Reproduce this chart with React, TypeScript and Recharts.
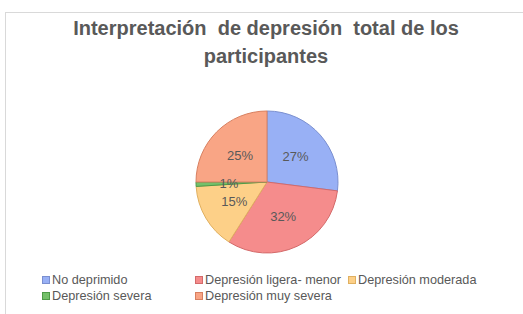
import React from 'react';
import { PieChart, Pie, Cell, Legend } from 'recharts';

const categories = ['No deprimido', 'Depresión ligera- menor', 'Depresión moderada', 'Depresión severa', 'Depresión muy severa'];
const values = [27, 32, 15, 1, 25];
const labels = ['27%', '32%', '15%', '1%', '25%'];
const colors = ['#98b0f5', '#f58c8c', '#fdd088', '#74c06a', '#f9a585'];
const strokes = ['#7a8fd0', '#d46a6a', '#e0b060', '#4e9a48', '#d88060'];

const data = categories.map((name, i) => ({ name, value: values[i], label: labels[i] }));

const RADIAN = Math.PI / 180;

const renderLabel = (props: any) => {
  const { cx, cy, midAngle, index } = props;
  const r = 38;
  const x = cx + r * Math.cos(-midAngle * RADIAN);
  const y = cy + r * Math.sin(-midAngle * RADIAN);
  return (
    <text x={x} y={y} fill="#595959" fontSize={13} fontFamily="'Liberation Sans', Arial, sans-serif" textAnchor="middle" dominantBaseline="central">
      {labels[index]}
    </text>
  );
};

const renderLegend = () => (
  <div style={{ display: 'grid', gridTemplateColumns: '153px 153px 160px', rowGap: 2, fontFamily: "'Liberation Sans', Arial, sans-serif", fontSize: 12.7, color: '#595959' }}>
    {categories.map((c, i) => (
      <div key={c} style={{ display: 'flex', alignItems: 'center', height: 14, whiteSpace: 'nowrap' }}>
        <span style={{ display: 'inline-block', width: 6, height: 6, background: colors[i], border: `1px solid ${strokes[i]}`, marginRight: 2 }} />
        <span>{c}</span>
      </div>
    ))}
  </div>
);

export default function App() {
  return (
    <div style={{ position: 'absolute', left: 0, top: 0, width: 523, height: 314, background: '#fff', overflow: 'hidden' }}>
      <div style={{ position: 'absolute', left: 5, top: 12, width: 540, height: 340, border: '1px solid #d9d9d9', boxSizing: 'border-box' }} />
      <div style={{ position: 'absolute', left: 0, top: 14, width: 532, textAlign: 'center', fontFamily: "'Liberation Sans', Arial, sans-serif", fontWeight: 'bold', fontSize: 20, lineHeight: '28px', color: '#595959' }}>
        <div>Interpretación&nbsp; de depresión&nbsp; total de los</div>
        <div>participantes</div>
      </div>
      <div style={{ position: 'absolute', left: 0, top: 0 }}>
        <PieChart width={523} height={314} margin={{ top: 0, right: 0, bottom: 0, left: 0 }}>
          <Pie
            data={data}
            dataKey="value"
            nameKey="name"
            cx={267}
            cy={182}
            outerRadius={71}
            startAngle={90}
            endAngle={-270}
            label={renderLabel}
            labelLine={false}
            isAnimationActive={false}
          >
            {data.map((d, i) => (
              <Cell key={d.name} fill={colors[i]} stroke={strokes[i]} strokeWidth={1} />
            ))}
          </Pie>
          <Legend content={renderLegend} wrapperStyle={{ position: 'absolute', left: 42, top: 273, width: 480 }} />
        </PieChart>
      </div>
    </div>
  );
}
